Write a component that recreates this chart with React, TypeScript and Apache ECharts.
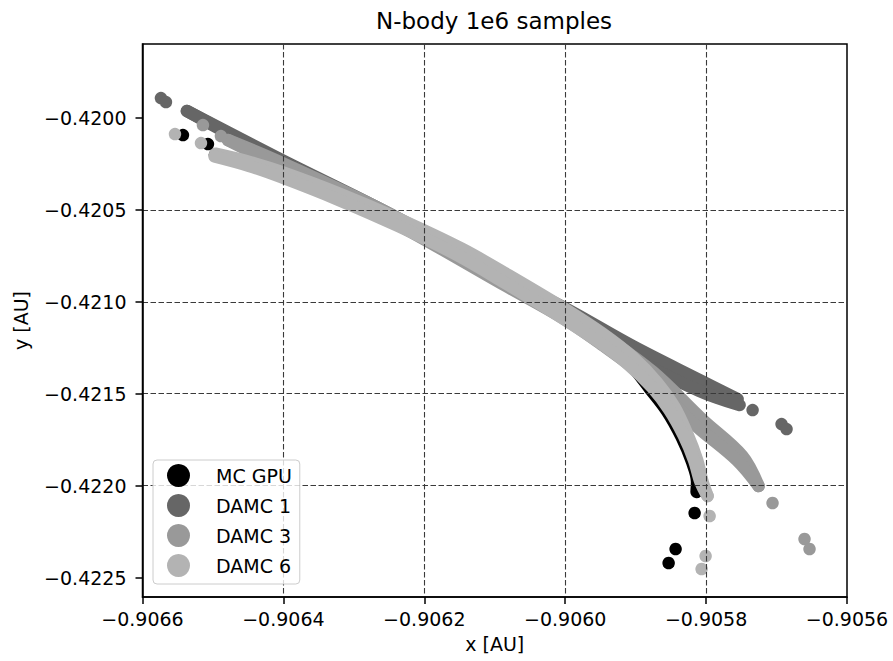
import React, { useEffect, useRef } from "react";
import * as echarts from "echarts";

const TITLE = "N-body 1e6 samples";
const X_NAME = "x [AU]";
const Y_NAME = "y [AU]";
const SERIES_NAMES = ["MC GPU", "DAMC 1", "DAMC 3", "DAMC 6"];
const SERIES_COLORS = ["#000000", "#666666", "#999999", "#b3b3b3"];

const X_MIN = -0.9066;
const X_MAX = -0.9056;
const X_STEP = 0.0002;
const Y_MIN = -0.422606;
const Y_MAX = -0.419597;
const Y_TICKS = [-0.4225, -0.422, -0.4215, -0.421, -0.4205, -0.42];

// ---- MC GPU ----
const mcGpuOutliers = [
  [-0.9065426, -0.4200925],
  [-0.9065071, -0.4201415],
  [-0.9058163, -0.4221491],
  [-0.9058433, -0.4223449],
  [-0.9058532, -0.4224211],
];
const mcGpuTrack = [
  [-0.9064972, -0.4202013],
  [-0.9064007, -0.4203101],
  [-0.9062348, -0.4205713],
  [-0.906083, -0.420876],
  [-0.9060007, -0.4210718],
  [-0.9059511, -0.4212133],
  [-0.9059085, -0.4213384],
  [-0.9058794, -0.4214744],
  [-0.9058555, -0.4215941],
  [-0.9058348, -0.4217356],
  [-0.9058203, -0.4218678],
  [-0.9058128, -0.4219804],
  [-0.9058135, -0.4220348],
];

// ---- DAMC 1 ----
const damc1Outliers = [
  [-0.9065738, -0.4198912],
  [-0.9065667, -0.419913],
  [-0.905734, -0.4215887],
  [-0.9056929, -0.4216649],
  [-0.9056858, -0.4216921],
];
const damc1TrackUpper = [
  [-0.9065369, -0.4199619],
  [-0.906405, -0.4202231],
  [-0.9062489, -0.4205223],
  [-0.906083, -0.420876],
  [-0.9060007, -0.4210337],
  [-0.9059043, -0.4212405],
  [-0.9058092, -0.4214255],
  [-0.9057553, -0.4215288],
];
const damc1TrackLower = [
  [-0.9065369, -0.4199619],
  [-0.906405, -0.420234],
  [-0.9062489, -0.4205332],
  [-0.906083, -0.4208977],
  [-0.9060007, -0.4210555],
  [-0.9059043, -0.4213003],
  [-0.9058092, -0.4214853],
  [-0.9057525, -0.4215615],
];

// ---- DAMC 3 ----
const damc3Outliers = [
  [-0.9065142, -0.4200381],
  [-0.9064887, -0.4200979],
  [-0.9057057, -0.4220947],
  [-0.9056603, -0.4222905],
  [-0.9056532, -0.4223449],
];
const damc3TrackUpper = [
  [-0.9064787, -0.4201197],
  [-0.9064044, -0.4202399],
  [-0.9062477, -0.4205234],
  [-0.906081, -0.4208836],
  [-0.9059982, -0.4210555],
  [-0.9059478, -0.421179],
  [-0.905876, -0.4213798],
  [-0.905805, -0.4216415],
  [-0.9057488, -0.4218373],
  [-0.9057255, -0.4220022],
];
const damc3TrackLower = [
  [-0.9064787, -0.4201197],
  [-0.9064055, -0.4202606],
  [-0.9062502, -0.4205539],
  [-0.906085, -0.4209119],
  [-0.9060033, -0.4210881],
  [-0.9059543, -0.4212149],
  [-0.9058843, -0.4214168],
  [-0.9058135, -0.4216774],
  [-0.9057562, -0.4218624],
  [-0.9057255, -0.4220022],
];

// ---- DAMC 6 ----
const damc6Outliers = [
  [-0.9065539, -0.4200871],
  [-0.906517, -0.420136],
  [-0.905795, -0.4221654],
  [-0.9058007, -0.422383],
  [-0.9058064, -0.4224538],
];
const damc6TrackA = [
  [-0.9064966, -0.4201937],
  [-0.9064467, -0.4202399],
  [-0.9063996, -0.4202971],
  [-0.9063182, -0.4204146],
  [-0.9062328, -0.4205544],
  [-0.9061471, -0.4207106],
  [-0.9060799, -0.4208564],
  [-0.9059972, -0.4210457],
  [-0.9059474, -0.4211714],
  [-0.9059045, -0.4212998],
  [-0.9058694, -0.4214402],
  [-0.9058454, -0.4215691],
  [-0.9058265, -0.4217204],
  [-0.9058129, -0.421858],
  [-0.905805, -0.4219788],
  [-0.9057979, -0.4220566],
];
const damc6TrackB = [
  [-0.9064977, -0.4202089],
  [-0.9064484, -0.4202606],
  [-0.9064018, -0.4203232],
  [-0.9063216, -0.4204451],
  [-0.9062367, -0.4205881],
  [-0.9061522, -0.4207476],
  [-0.9060861, -0.4208955],
  [-0.9060043, -0.4210871],
  [-0.9059548, -0.4212116],
  [-0.9059125, -0.4213335],
  [-0.9058767, -0.4214652],
  [-0.9058525, -0.4215865],
  [-0.9058316, -0.4217291],
  [-0.9058169, -0.4218634],
  [-0.9058078, -0.4219821],
  [-0.9057979, -0.4220566],
];

const FONT = "DejaVu Sans";
const MARKER = 12.5;

const fmt = (v: number) => v.toFixed(4).replace("-", "\u2212");

function group(idx: number, outliers: number[][], tracks: number[][][]) {
  const name = SERIES_NAMES[idx];
  const color = SERIES_COLORS[idx];
  const list: any[] = [
    {
      type: "scatter",
      name,
      data: outliers,
      symbol: "circle",
      symbolSize: MARKER,
      itemStyle: { color, opacity: 1 },
      silent: true,
      z: 2,
    },
  ];
  tracks.forEach((t) => {
    list.push({
      type: "line",
      name,
      data: t,
      symbol: "none",
      showSymbol: false,
      smooth: 0.35,
      itemStyle: { color },
      lineStyle: { color, width: MARKER, cap: "round", join: "round" },
      silent: true,
      z: 2,
    });
  });
  return list;
}

export default function App() {
  const ref = useRef<HTMLDivElement>(null);
  useEffect(() => {
    if (!ref.current) return;
    const chart = echarts.init(ref.current, undefined, { renderer: "svg" });
    const series = [
      ...group(0, mcGpuOutliers, [mcGpuTrack]),
      ...group(1, damc1Outliers, [damc1TrackUpper, damc1TrackLower]),
      ...group(2, damc3Outliers, [damc3TrackUpper, damc3TrackLower]),
      ...group(3, damc6Outliers, [damc6TrackA, damc6TrackB]),
    ];
    const axisCommon = {
      type: "value",
      z: 3,
      axisLine: { show: true, onZero: false, lineStyle: { color: "#000", width: 1.5 } },
      axisTick: { show: true, length: 7, lineStyle: { color: "#000", width: 1.5 } },
      splitLine: {
        show: true,
        showMinLine: false,
        showMaxLine: false,
        lineStyle: { color: "#3a3a3a", width: 1.1, type: [5.5, 2.5] },
      },
      nameTextStyle: { fontFamily: FONT, fontSize: 19, color: "#000" },
    };
    chart.setOption({
      animation: false,
      backgroundColor: "#ffffff",
      title: {
        text: TITLE,
        left: 376,
        top: 9,
        padding: 0,
        textStyle: { fontFamily: FONT, fontSize: 23, fontWeight: "normal", color: "#000" },
      },
      grid: {
        show: true,
        left: 142.5,
        top: 44,
        right: 46,
        bottom: 64,
        containLabel: false,
        borderColor: "#000",
        borderWidth: 1.5,
        backgroundColor: "transparent",
      },
      legend: {
        orient: "vertical",
        left: 153,
        top: 460,
        padding: [4, 8, 7, 14],
        itemGap: 7,
        itemWidth: 23,
        itemHeight: 23,
        selectedMode: false,
        backgroundColor: "rgba(255,255,255,0.8)",
        borderColor: "#cccccc",
        borderWidth: 1,
        borderRadius: 4,
        z: 10,
        textStyle: { fontFamily: FONT, fontSize: 19, color: "#000", padding: [0, 0, 0, 21] },
        data: SERIES_NAMES.map((n) => ({ name: n, icon: "circle" })),
      },
      xAxis: {
        ...axisCommon,
        min: X_MIN,
        max: X_MAX,
        interval: X_STEP,
        name: X_NAME,
        nameLocation: "middle",
        nameGap: 37,
        axisLabel: { formatter: fmt, fontFamily: FONT, fontSize: 19, color: "#000", margin: 12 },
      },
      yAxis: {
        ...axisCommon,
        min: Y_MIN,
        max: Y_MAX,
        name: Y_NAME,
        nameLocation: "middle",
        nameGap: 112,
        nameRotate: 90,
        axisTick: { ...axisCommon.axisTick, customValues: Y_TICKS },
        axisLabel: {
          formatter: fmt,
          customValues: Y_TICKS,
          fontFamily: FONT,
          fontSize: 19,
          color: "#000",
          margin: 16,
        },
      },
      series,
    });
    return () => chart.dispose();
  }, []);
  return (
    <div
      ref={ref}
      style={{ position: "absolute", left: 0, top: 0, width: 893, height: 661, background: "#fff" }}
    />
  );
}
